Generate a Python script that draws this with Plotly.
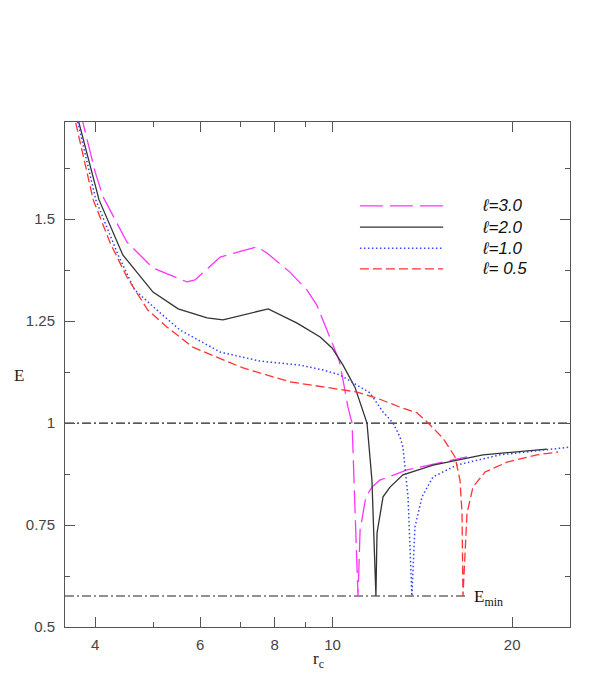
import plotly.graph_objects as go
import math

# l = 3.0 (magenta, long dash)
r_l30 = [3.77, 4.00, 4.125, 4.52, 5.00, 5.70, 5.88, 6.48, 7.47, 7.76, 8.48, 9.06, 9.41, 9.90,
         10.25, 10.41, 10.61, 10.78, 10.90, 11.03,
         11.12, 11.37, 11.64, 12.00, 13.33, 16.80]
E_l30 = [1.767, 1.615, 1.554, 1.444, 1.380, 1.346, 1.351, 1.407, 1.432, 1.417, 1.370, 1.326, 1.289, 1.211,
         1.155, 1.106, 1.039, 1.0, 0.779, 0.576,
         0.738, 0.819, 0.843, 0.860, 0.885, 0.917]

# l = 2.0 (black, solid)
r_l20 = [3.71, 4.06, 4.45, 5.00, 5.51, 6.16, 6.55, 7.80, 8.72, 9.53, 9.98, 10.41, 10.90, 11.24,
         11.42, 11.64, 11.73, 11.82,
         11.87, 12.15, 12.48, 13.12, 14.74, 17.87, 22.88]
E_l20 = [1.767, 1.547, 1.412, 1.321, 1.280, 1.258, 1.253, 1.280, 1.245, 1.211, 1.184, 1.142, 1.088, 1.032,
         1.0, 0.860, 0.738, 0.576,
         0.730, 0.819, 0.843, 0.873, 0.897, 0.922, 0.936]

# l = 1.0 (blue, dotted)
r_l10 = [3.70, 4.01, 4.37, 4.66, 5.14, 5.55, 6.48, 7.55, 8.82, 9.64, 10.29, 10.82, 11.55, 12.15,
         12.63, 12.97, 13.12, 13.38, 13.58,
         13.74, 14.12, 14.73, 16.16, 19.08, 25.0]
E_l10 = [1.767, 1.547, 1.412, 1.326, 1.270, 1.228, 1.174, 1.152, 1.142, 1.130, 1.118, 1.098, 1.074, 1.027,
         1.0, 0.966, 0.941, 0.819, 0.576,
         0.745, 0.819, 0.868, 0.897, 0.922, 0.941]

# l = 0.5 (red, dashed)
r_l05 = [3.67, 3.97, 4.24, 4.52, 4.90, 5.28, 5.83, 7.08, 8.48, 9.64, 10.99, 11.87, 12.97, 13.85,
         14.39, 15.31, 16.04, 16.35, 16.48, 16.54,
         16.80, 17.19, 18.01, 19.60, 22.00, 23.87]
E_l05 = [1.767, 1.547, 1.441, 1.358, 1.277, 1.235, 1.186, 1.135, 1.101, 1.088, 1.076, 1.061, 1.039, 1.025,
         1.003, 0.963, 0.917, 0.860, 0.779, 0.576,
         0.779, 0.843, 0.880, 0.904, 0.922, 0.929]

E_unbound = 1.0
E_min = 0.576
r_min_end = 16.8
r_range = [3.56, 25.0]

legend_labels = ["ℓ=3.0", "ℓ=2.0", "ℓ=1.0", "ℓ= 0.5"]

x_major = [4, 6, 8, 10, 20]
x_minor = [5, 7, 9]
y_major = [0.5, 0.75, 1, 1.25, 1.5]
y_major_text = ["0.5", "0.75", "1", "1.25", "1.5"]
y_minor = [0.625, 0.875, 1.125, 1.375, 1.625]

styles = [
    dict(color="#ff33ff", dash="23px,7px", width=1.3),
    dict(color="#333333", dash="solid", width=1.3),
    dict(color="#3344ff", dash="1.5px,2.5px", width=1.5),
    dict(color="#ff3333", dash="9px,4px", width=1.3),
]
curves = [(r_l30, E_l30), (r_l20, E_l20), (r_l10, E_l10), (r_l05, E_l05)]
dashdot = dict(color="#222222", dash="9px,3px,2px,3px", width=1.2)

fig = go.Figure()

fig.add_trace(go.Scatter(x=r_range, y=[E_unbound, E_unbound], mode="lines",
                         line=dashdot, showlegend=False))
fig.add_trace(go.Scatter(x=[r_range[0], r_min_end], y=[E_min, E_min], mode="lines",
                         line=dashdot, showlegend=False))

for (r, E), st, name in zip(curves, styles, legend_labels):
    fig.add_trace(go.Scatter(x=r, y=E, mode="lines", line=st, name=name, showlegend=False))

# hand-made legend (long line samples as in the original)
leg_y = [0.834, 0.792, 0.750, 0.709]
for st, name, yy in zip(styles, legend_labels, leg_y):
    fig.add_shape(type="line", xref="paper", yref="paper", x0=0.584, x1=0.749, y0=yy, y1=yy,
                  line=st)
    fig.add_annotation(xref="paper", yref="paper", x=0.822, y=yy, xanchor="left", yanchor="middle",
                       text="<i>" + name + "</i>", showarrow=False,
                       font=dict(family="Liberation Sans", size=17, color="#111"))

fig.add_annotation(x=math.log10(17.1), y=E_min, xref="x", yref="y", xanchor="left", yanchor="middle",
                   text="E<sub>min</sub>", showarrow=False, yshift=-2,
                   font=dict(family="Liberation Serif", size=17, color="#111"))
fig.add_annotation(xref="paper", yref="paper", x=0.501, y=-0.065, text="r<sub>c</sub>", showarrow=False,
                   xanchor="center", yanchor="middle",
                   font=dict(family="Liberation Serif", size=17, color="#222"))
fig.add_annotation(xref="paper", yref="paper", x=-0.091, y=0.499, text="E", showarrow=False,
                   xanchor="center", yanchor="middle",
                   font=dict(family="Liberation Serif", size=17, color="#222"))

axis_common = dict(showline=True, linecolor="#555", linewidth=1, mirror="ticks", ticks="inside",
                   ticklen=10, tickcolor="#555", tickwidth=1, showgrid=False, zeroline=False,
                   tickfont=dict(family="Liberation Sans", size=15, color="#444"))

fig.update_xaxes(type="log", range=[math.log10(r_range[0]), math.log10(r_range[1])],
                 tickmode="array", tickvals=x_major, ticktext=[str(v) for v in x_major],
                 ticklabelstandoff=4,
                 minor=dict(tickmode="array", tickvals=x_minor, ticks="inside", ticklen=5,
                            tickcolor="#555", showgrid=False),
                 **axis_common)
fig.update_yaxes(range=[0.5, 1.738], tickmode="array", tickvals=y_major, ticktext=y_major_text,
                 ticklabelstandoff=6,
                 minor=dict(tickmode="array", tickvals=y_minor, ticks="inside", ticklen=5,
                            tickcolor="#555", showgrid=False),
                 **axis_common)

# page body adds an 8px margin, so the figure is a bit smaller than the window
fig.update_layout(width=573, height=675, margin=dict(l=57, r=11, t=114, b=56),
                  plot_bgcolor="white", paper_bgcolor="white", showlegend=False)

fig.write_html("out.html")
